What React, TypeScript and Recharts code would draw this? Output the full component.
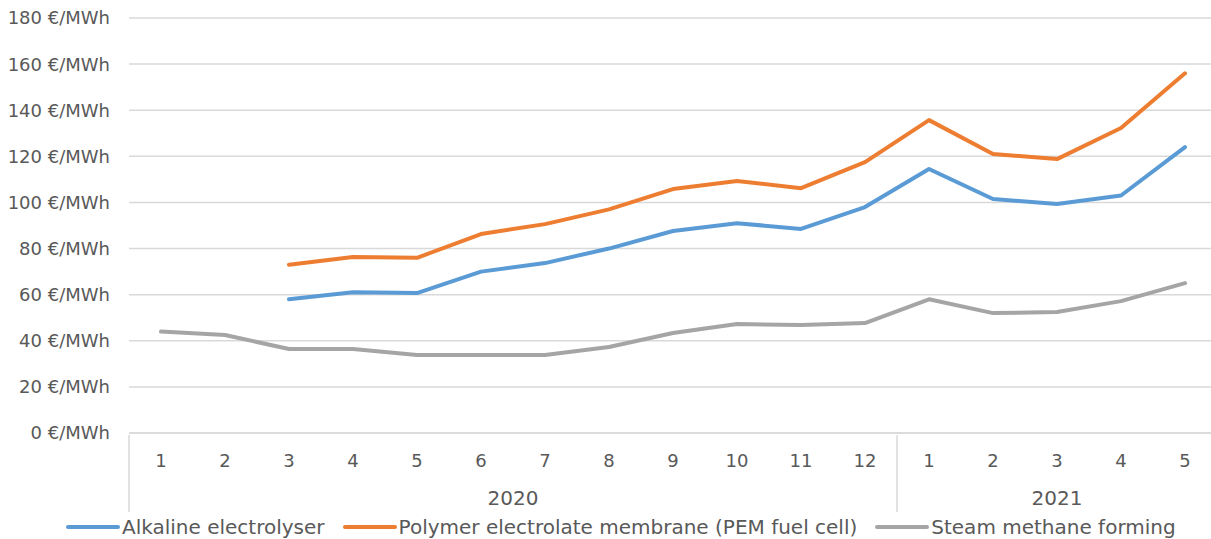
import React from "react";
import { LineChart, Line, XAxis, YAxis, CartesianGrid, Legend } from "recharts";

const months = ["1", "2", "3", "4", "5", "6", "7", "8", "9", "10", "11", "12", "1", "2", "3", "4", "5"];
const years = ["2020", "2020", "2020", "2020", "2020", "2020", "2020", "2020", "2020", "2020", "2020", "2020", "2021", "2021", "2021", "2021", "2021"];

const alkaline = [null, null, 58, 61, 60.7, 70, 73.7, 80, 87.6, 91, 88.5, 98, 114.5, 101.5, 99.3, 103, 124];
const pem = [null, null, 73, 76.3, 76, 86.3, 90.6, 97, 105.8, 109.3, 106.2, 117.5, 135.7, 121, 118.8, 132.3, 156];
const steam = [44, 42.5, 36.4, 36.4, 33.8, 33.8, 33.8, 37.3, 43.4, 47.3, 46.8, 47.7, 58, 52, 52.5, 57.2, 65];

const yTicks = [0, 20, 40, 60, 80, 100, 120, 140, 160, 180];

const series = [
  { key: "alkaline", name: "Alkaline electrolyser", color: "#5b9bd5" },
  { key: "pem", name: "Polymer electrolate membrane (PEM fuel cell)", color: "#ed7d31" },
  { key: "steam", name: "Steam methane forming", color: "#a5a5a5" },
];

const CHART_W = 1225;
const CHART_H = 539;
const Y_W = 129;
const MARGIN = { top: 18, right: 8, left: 0, bottom: 6 };
const STEP = (CHART_W - MARGIN.left - MARGIN.right - Y_W) / months.length;
const FONT = "'DejaVu Sans', sans-serif";
const TEXT = "#595959";
const GRID = "#d9d9d9";

const data = months.map((m, i) => ({
  month: m,
  alkaline: alkaline[i],
  pem: pem[i],
  steam: steam[i],
}));

function MonthTick(props: any) {
  const { x, y, payload } = props;
  const i = payload.index ?? props.index;
  const groupStart = i === 0 || years[i] !== years[i - 1];
  let groupLen = 0;
  if (groupStart) {
    while (i + groupLen < years.length && years[i + groupLen] === years[i]) groupLen++;
  }
  return (
    <g>
      <text x={x} y={y + 25} textAnchor="middle" dominantBaseline="central" fill={TEXT} fontSize={18} fontFamily={FONT}>
        {payload.value}
      </text>
      {groupStart && (
        <>
          <line x1={x - STEP / 2} x2={x - STEP / 2} y1={y} y2={y + 77} stroke={GRID} strokeWidth={1.5} />
          <text
            x={x + ((groupLen - 1) / 2) * STEP}
            y={y + 63}
            textAnchor="middle"
            dominantBaseline="central"
            fill={TEXT}
            fontSize={20}
            fontFamily={FONT}
          >
            {years[i]}
          </text>
        </>
      )}
    </g>
  );
}

function LegendContent() {
  return (
    <div style={{ display: "flex", alignItems: "center", fontFamily: FONT, fontSize: 20, color: TEXT, whiteSpace: "nowrap" }}>
      {series.map((s) => (
        <div key={s.key} style={{ display: "flex", alignItems: "center", marginRight: 18 }}>
          <svg width={54} height={8} style={{ marginRight: 2 }}>
            <line x1={2} x2={52} y1={4} y2={4} stroke={s.color} strokeWidth={4} strokeLinecap="round" />
          </svg>
          <span>{s.name}</span>
        </div>
      ))}
    </div>
  );
}

export default function App() {
  return (
    <div style={{ position: "absolute", left: 0, top: 0, width: 1211, height: CHART_H, overflow: "hidden", background: "#fff" }}>
      <LineChart width={CHART_W} height={CHART_H} data={data} margin={MARGIN}>
        <CartesianGrid vertical={false} stroke={GRID} strokeWidth={1.5} />
        <XAxis
          dataKey="month"
          height={100}
          interval={0}
          padding={{ left: STEP / 2, right: STEP / 2 }}
          tickLine={false}
          tickSize={0}
          axisLine={{ stroke: GRID, strokeWidth: 1.5 }}
          tick={<MonthTick />}
        />
        <YAxis
          width={Y_W}
          domain={[0, 180]}
          ticks={yTicks}
          axisLine={false}
          tickLine={false}
          tickSize={0}
          tickMargin={19}
          tickFormatter={(v) => `${v} €/MWh`}
          tick={{ fill: TEXT, fontSize: 18, fontFamily: FONT }}
        />
        {series.map((s) => (
          <Line
            key={s.key}
            type="linear"
            dataKey={s.key}
            name={s.name}
            stroke={s.color}
            strokeWidth={4}
            strokeLinecap="round"
            strokeLinejoin="round"
            dot={false}
            activeDot={false}
            isAnimationActive={false}
          />
        ))}
        <Legend
          verticalAlign="middle"
          layout="horizontal"
          content={<LegendContent />}
          wrapperStyle={{ top: 515, left: 66, width: "auto" }}
        />
      </LineChart>
    </div>
  );
}
